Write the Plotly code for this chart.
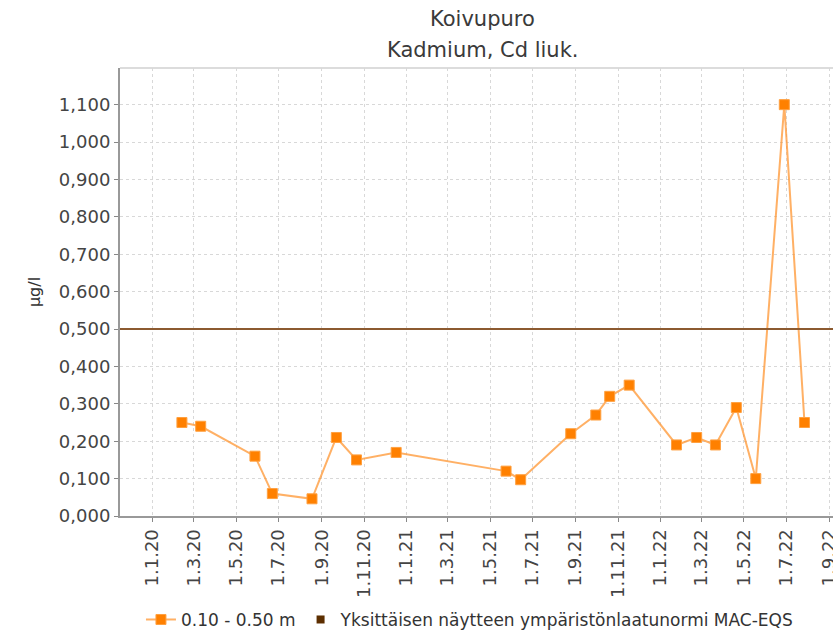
import plotly.graph_objects as go

dates = ["2020-02-13", "2020-03-11", "2020-05-28", "2020-06-22", "2020-08-18",
         "2020-09-22", "2020-10-21", "2020-12-17", "2021-05-24", "2021-06-14",
         "2021-08-25", "2021-09-30", "2021-10-20", "2021-11-17", "2022-01-24",
         "2022-02-22", "2022-03-21", "2022-04-20", "2022-05-18", "2022-06-28",
         "2022-07-27"]
values = [0.25, 0.24, 0.16, 0.06, 0.046,
          0.21, 0.15, 0.17, 0.12, 0.097,
          0.22, 0.27, 0.32, 0.35, 0.19,
          0.21, 0.19, 0.29, 0.10, 1.10,
          0.25]
series_name = "0.10 - 0.50 m"
mac_eqs = 0.5
mac_name = "Yksittäisen näytteen ympäristönlaatunormi MAC-EQS"
x_range = ["2019-11-16", "2022-09-06"]
y_range = [0, 1.198]

FONT = "DejaVu Sans"

fig = go.Figure()
fig.add_shape(type="line", xref="paper", x0=0, x1=1, yref="y", y0=mac_eqs, y1=mac_eqs,
              line=dict(color="#8c5a30", width=2), layer="above")
fig.add_shape(type="line", xref="paper", x0=0, x1=1, yref="paper", y0=1, y1=1,
              line=dict(color="#dcdcdc", width=2), layer="below")
fig.add_trace(go.Scatter(
    x=dates, y=values, mode="lines+markers", name=series_name,
    line=dict(color="rgba(255,150,50,0.75)", width=2),
    marker=dict(symbol="square", size=10, color="#ff8000",
                line=dict(color="#ffa040", width=1)),
))
fig.add_trace(go.Scatter(
    x=[None], y=[None], mode="markers", name=mac_name,
    marker=dict(symbol="square", size=8, color="#5c2e00"),
))

fig.update_layout(
    width=833, height=630,
    margin=dict(l=120, r=0, t=68, b=114, autoexpand=False),
    paper_bgcolor="white", plot_bgcolor="white",
    separators=",.",
    font=dict(family=FONT, size=17, color="#444"),
    showlegend=True,
    legend=dict(orientation="h", x=0.0294, xanchor="left", y=-0.232, yanchor="middle",
                font=dict(size=17, color="#333"), itemsizing="trace",
                tracegroupgap=0, itemwidth=30),
    annotations=[
        dict(text="Koivupuro", xref="paper", yref="paper", x=0.509, y=1.109,
             showarrow=False, font=dict(size=21, color="#3a3a3a"), xanchor="center", yanchor="middle"),
        dict(text="Kadmium, Cd liuk.", xref="paper", yref="paper", x=0.509, y=1.040,
             showarrow=False, font=dict(size=21, color="#3a3a3a"), xanchor="center", yanchor="middle"),
    ],
)
fig.update_xaxes(
    type="date", range=x_range, dtick="M2", tick0="2020-01-01",
    tickformat="%-d.%-m.%y", tickangle=-90, automargin=False,
    ticklabeloverflow="allow",
    showgrid=True, gridcolor="#d8d8d8", griddash="3px,3px", gridwidth=1,
    ticks="outside", ticklen=4, tickcolor="#888",
    showline=True, linecolor="#999", linewidth=2, mirror=False,
    zeroline=False, tickfont=dict(size=18, color="#444"),
)
fig.update_yaxes(
    range=y_range, dtick=0.1, tick0=0, tickformat=".3f", automargin=False,
    showgrid=True, gridcolor="#d8d8d8", griddash="3px,3px", gridwidth=1,
    ticks="outside", ticklen=4, tickcolor="#888",
    showline=True, linecolor="#999", linewidth=2,
    zeroline=False, tickfont=dict(size=18, color="#444"),
    title=dict(text="µg/l", font=dict(size=16, color="#333"), standoff=14),
)

fig.write_html("out.html", config={"displayModeBar": False},
               post_script="document.body.style.margin='0';")
